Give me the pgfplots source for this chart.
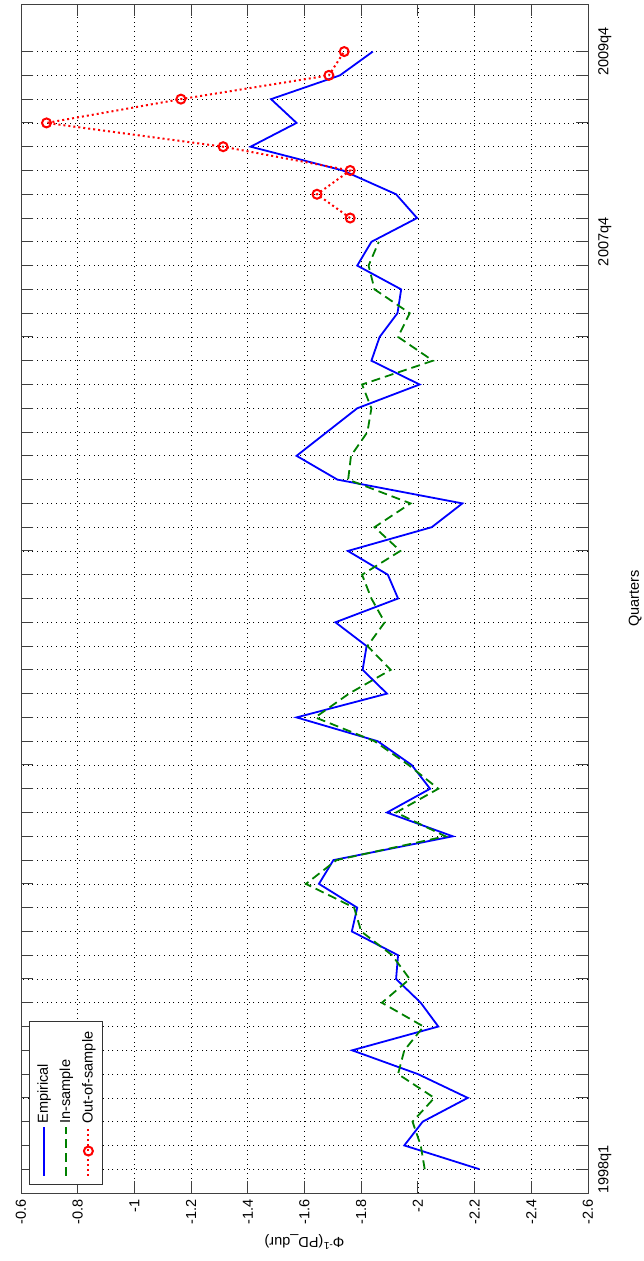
\documentclass[border=0pt]{standalone}
\usepackage{fontspec}
\setmainfont{Liberation Sans}
\usepackage{pgfplots}
\pgfplotsset{compat=1.18}
\definecolor{mgreen}{RGB}{0,128,0}
\definecolor{mblue}{RGB}{0,0,255}
\definecolor{mred}{RGB}{255,0,0}
\begin{document}
\fontsize{14.5}{17}\selectfont
\begin{tikzpicture}
\path[use as bounding box] (0,0) rectangle (643pt,1261pt);
\begin{scope}[transform canvas={rotate=90}]
\begin{axis}[
  at={(68pt,-588pt)}, anchor=south west,
  scale only axis, width=1189pt, height=567pt,
  xmin=0, xmax=50,
  ymin=-2.6, ymax=-0.6,
  ytick={-2.6,-2.4,-2.2,-2,-1.8,-1.6,-1.4,-1.2,-1,-0.8,-0.6},
  yticklabels={-2.6,-2.4,-2.2,-2,-1.8,-1.6,-1.4,-1.2,-1,-0.8,-0.6},
  xtick={1,...,48},
  xticklabels={},
  extra x ticks={1,40,48},
  extra x tick labels={1998q1,2007q4,2009q4},
  extra x tick style={grid=none, major tick length=0pt},
  xticklabel style={anchor=north, inner ysep=10pt, inner xsep=0pt},
  yticklabel style={anchor=east, inner xsep=6.5pt, inner ysep=0pt},
  grid=major,
  major grid style={black, line width=0.7pt, dash pattern=on 1pt off 3.7pt},
  tick align=inside, major tick length=12pt,
  tick style={black!75, line width=1pt},
  axis line style={black!75, line width=1pt},
  xlabel={Quarters},
  xlabel style={at={(axis description cs:0.5,-0.083)}, anchor=center},
  ylabel={Φ\textsuperscript{-1}(PD\_dur)},
  ylabel style={at={(axis description cs:-0.0412,0.5)}, anchor=center},
  legend style={at={(0.0067,0.9859)}, anchor=north west,
    draw=black!80, line width=1pt, fill=white,
    inner xsep=8pt, inner ysep=5.8pt, row sep=5.7pt,
    nodes={inner sep=2pt},
    font=\fontsize{14.5}{17}\selectfont},
  legend cell align=left,
  legend image code/.code={\draw[mark repeat=2,mark phase=2,#1] plot coordinates {(0pt,0pt) (24.5pt,0pt) (49pt,0pt)};},
]
\addplot[mblue, line width=1.8pt] coordinates {
(1,-2.217) (2,-1.952) (3,-2.017) (4,-2.176) (5,-2.000) (6,-1.768) (7,-2.072) (8,-2.010)
(9,-1.923) (10,-1.930) (11,-1.767) (12,-1.786) (13,-1.651) (14,-1.702) (15,-2.123) (16,-1.891)
(17,-2.043) (18,-1.978) (19,-1.858) (20,-1.572) (21,-1.891) (22,-1.805) (23,-1.819) (24,-1.709)
(25,-1.930) (26,-1.894) (27,-1.753) (28,-2.049) (29,-2.157) (30,-1.716) (31,-1.572) (32,-1.679)
(33,-1.786) (34,-2.006) (35,-1.836) (36,-1.865) (37,-1.928) (38,-1.941) (39,-1.786) (40,-1.836)
(41,-1.997) (42,-1.923) (43,-1.735) (44,-1.410) (45,-1.572) (46,-1.482) (47,-1.725) (48,-1.841)
};
\addplot[mgreen, line width=1.8pt, dash pattern=on 9pt off 5pt] coordinates {
(1,-2.024) (2,-2.010) (3,-1.981) (4,-2.058) (5,-1.930) (6,-1.952) (7,-2.020) (8,-1.873)
(9,-1.971) (10,-1.909) (11,-1.800) (12,-1.775) (13,-1.605) (14,-1.713) (15,-2.097) (16,-1.923)
(17,-2.072) (18,-1.967) (19,-1.847) (20,-1.638) (21,-1.757) (22,-1.904) (23,-1.822) (24,-1.883)
(25,-1.836) (26,-1.803) (27,-1.938) (28,-1.847) (29,-1.974) (30,-1.754) (31,-1.764) (32,-1.822)
(33,-1.836) (34,-1.803) (35,-2.053) (36,-1.930) (37,-1.971) (38,-1.847) (39,-1.826) (40,-1.862)
};
\addplot[mred, line width=2pt, dash pattern=on 2pt off 3pt, mark=o, mark size=4.5pt, mark options={solid, line width=2pt}] coordinates {
(41,-1.761) (42,-1.644) (43,-1.761) (44,-1.313) (45,-0.690) (46,-1.164) (47,-1.686) (48,-1.740)
};
\legend{Empirical, In-sample, Out-of-sample}
\end{axis}
\end{scope}
\end{tikzpicture}
\end{document}
